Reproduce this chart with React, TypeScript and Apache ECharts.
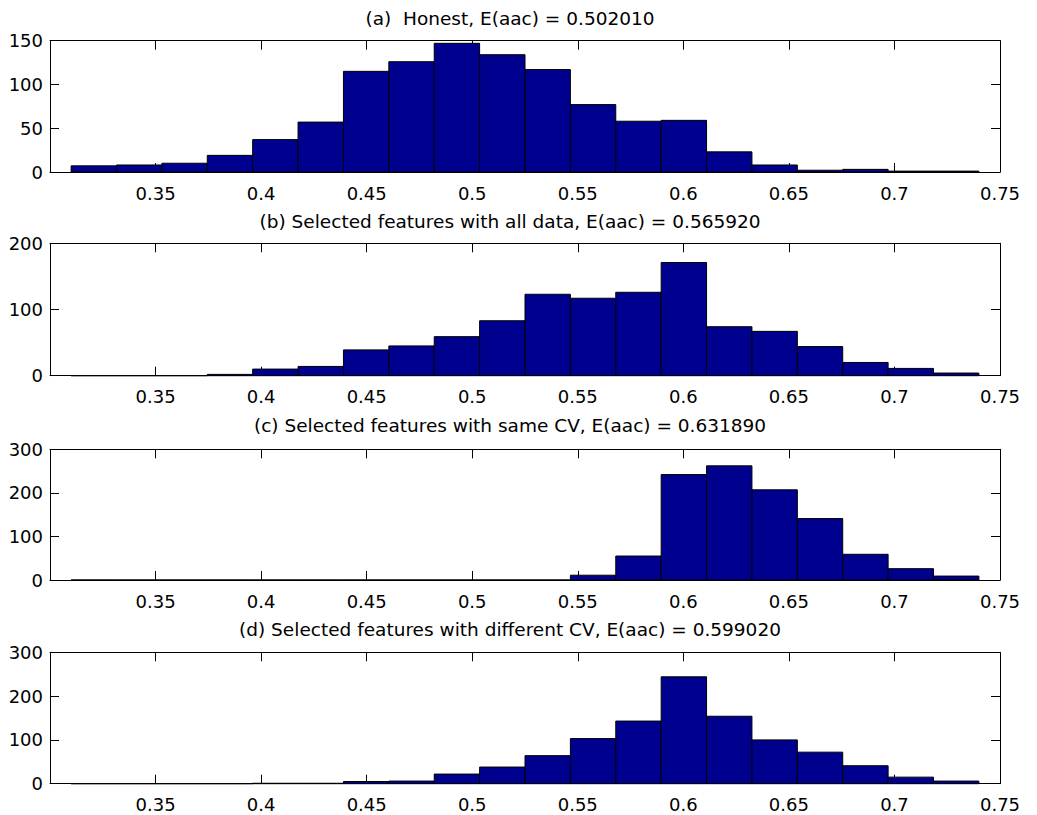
import React, { useEffect, useRef } from "react";
import * as echarts from "echarts";

// Bin edges shared by the four histograms (20 bins)
const BIN_EDGES = [
  0.31, 0.3315, 0.353, 0.3745, 0.396, 0.4175, 0.439, 0.4605, 0.482, 0.5035,
  0.525, 0.5465, 0.568, 0.5895, 0.611, 0.6325, 0.654, 0.6755, 0.697, 0.7185, 0.74,
];

const COUNTS_A = [7, 8, 10, 19, 37, 57, 115, 126, 147, 134, 117, 77, 58, 59, 23, 8, 2, 3, 1, 1];
const COUNTS_B = [0, 0, 0, 2, 10, 14, 39, 45, 59, 83, 123, 117, 126, 171, 74, 67, 44, 20, 11, 4];
const COUNTS_C = [0, 0, 0, 0, 0, 0, 0, 0, 0, 0, 0, 11, 55, 242, 262, 207, 141, 59, 26, 9];
const COUNTS_D = [0, 0, 0, 0, 1, 1, 5, 6, 22, 38, 64, 103, 143, 244, 154, 100, 72, 41, 15, 6];

const TITLES = [
  "(a)  Honest, E(aac) = 0.502010",
  "(b) Selected features with all data, E(aac) = 0.565920",
  "(c) Selected features with same CV, E(aac) = 0.631890",
  "(d) Selected features with different CV, E(aac) = 0.599020",
];

const Y_MAX = [150, 200, 300, 300];
const Y_INTERVAL = [50, 100, 100, 100];
const X_MIN = 0.3;
const X_MAX = 0.75;
const X_INTERVAL = 0.05;

const ALL_COUNTS = [COUNTS_A, COUNTS_B, COUNTS_C, COUNTS_D];

// layout (pixels)
const GRID_TOPS = [40.7, 243.3, 449.3, 652.3];
const GRID_BOTTOMS = [172, 375.7, 580, 783.7];
const TITLE_Y = [18.8, 221.5, 425, 629.5];
const FONT = "DejaVu Sans";
const BAR_FILL = "#00008F";

export default function App() {
  const ref = useRef<HTMLDivElement>(null);
  useEffect(() => {
    if (!ref.current) return;
    const chart = echarts.init(ref.current, undefined, { renderer: "svg" });
    const grids: any[] = [];
    const xAxes: any[] = [];
    const yAxes: any[] = [];
    const series: any[] = [];
    const graphics: any[] = [];
    const H = 815;
    for (let i = 0; i < 4; i++) {
      grids.push({
        left: 50,
        right: 1037 - 1000,
        top: GRID_TOPS[i],
        bottom: H - GRID_BOTTOMS[i],
        containLabel: false,
      });
      const common = {
        gridIndex: i,
        type: "value",
        min: X_MIN,
        max: X_MAX,
        interval: X_INTERVAL,
        splitLine: { show: false },
        axisLine: { show: true, onZero: false, lineStyle: { color: "#000", width: 1 } },
        axisTick: { show: true, inside: true, length: 9, lineStyle: { color: "#000" } },
      };
      xAxes.push({
        ...common,
        position: "bottom",
        axisLabel: {
          show: true,
          margin: 12,
          fontSize: 18,
          fontFamily: FONT,
          color: "#000",
          formatter: (v: number) => (Math.abs(v - X_MIN) < 1e-9 ? "" : String(+v.toFixed(2))),
        },
      });
      xAxes.push({ ...common, position: "top", axisLabel: { show: false } });
      const ycommon = {
        gridIndex: i,
        type: "value",
        min: 0,
        max: Y_MAX[i],
        interval: Y_INTERVAL[i],
        splitLine: { show: false },
        axisLine: { show: true, onZero: false, lineStyle: { color: "#000", width: 1 } },
        axisTick: { show: true, inside: true, length: 9, lineStyle: { color: "#000" } },
      };
      yAxes.push({
        ...ycommon,
        position: "left",
        axisLabel: { show: true, margin: 7, fontSize: 18, fontFamily: FONT, color: "#000" },
      });
      yAxes.push({ ...ycommon, position: "right", axisLabel: { show: false } });

      const data = ALL_COUNTS[i].map((c, k) => [BIN_EDGES[k], BIN_EDGES[k + 1], c]);
      series.push({
        type: "custom",
        xAxisIndex: i * 2,
        yAxisIndex: i * 2,
        encode: { x: [0, 1], y: 2 },
        data,
        clip: false,
        renderItem: (params: any, api: any) => {
          const x0 = api.value(0);
          const x1 = api.value(1);
          const y = api.value(2);
          const p0 = api.coord([x0, y]);
          const p1 = api.coord([x1, 0]);
          return {
            type: "rect",
            shape: { x: p0[0], y: p0[1], width: p1[0] - p0[0], height: p1[1] - p0[1] },
            style: { fill: BAR_FILL, stroke: "#000", lineWidth: 1 },
          };
        },
      });
      graphics.push({
        type: "text",
        x: 510,
        y: TITLE_Y[i],
        style: {
          text: TITLES[i],
          fontSize: 18.5,
          fontFamily: FONT,
          fill: "#000",
          align: "center",
          verticalAlign: "middle",
        },
      });
    }
    chart.setOption({
      animation: false,
      backgroundColor: "#fff",
      grid: grids,
      xAxis: xAxes,
      yAxis: yAxes,
      series,
      graphic: graphics,
    });
    return () => chart.dispose();
  }, []);
  return (
    <div
      ref={ref}
      style={{ position: "fixed", left: 0, top: 0, width: 1037, height: 815, background: "#fff" }}
    />
  );
}
